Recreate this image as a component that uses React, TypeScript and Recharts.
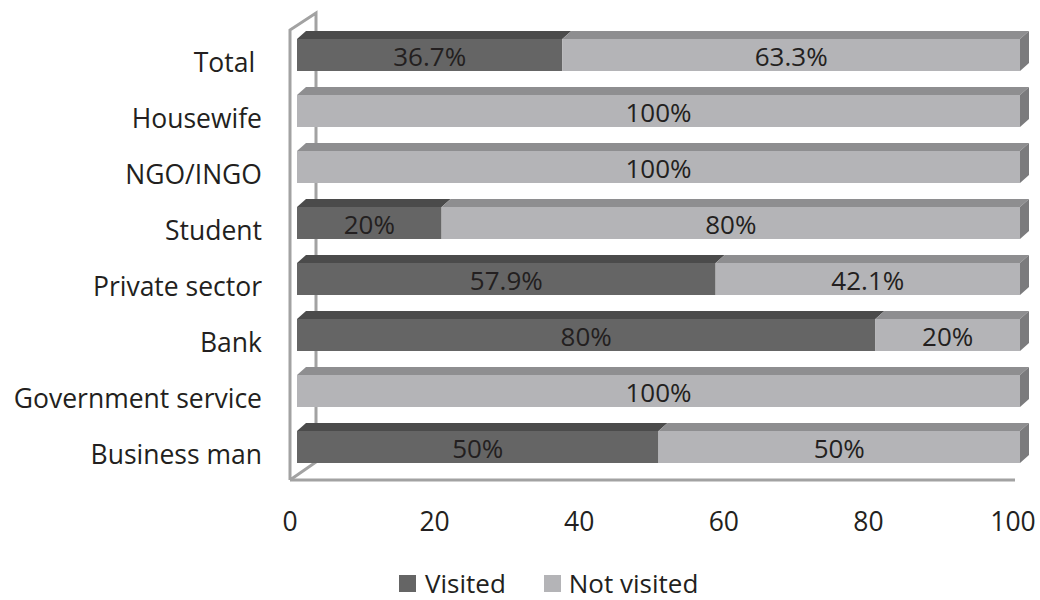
import React from 'react';
import { BarChart, Bar, XAxis, YAxis, LabelList, Legend } from 'recharts';

// values (percent of respondents)
const categories = ['Total ', 'Housewife', 'NGO/INGO', 'Student', 'Private sector', 'Bank', 'Government service', 'Business man'];
const visited = [36.7, 0, 0, 20, 57.9, 80, 0, 50];
const notVisited = [63.3, 100, 100, 80, 42.1, 20, 100, 50];
const xTicks = [0, 20, 40, 60, 80, 100];

const data = categories.map((name, i) => ({
  name,
  visited: visited[i],
  notVisited: notVisited[i],
}));

const W = 1040;
const H = 600;
const LEFT = 290;
const RIGHT = 1013;
const TOP = 33;
const BOTTOM = 481;
const FONT = "'Open Sans', sans-serif";
const TEXT = '#231f20';

// fake 3D: bars sit a little behind the front plane and have a depth
const DX = 7;
const DY = -6;
const DEPTH_X = 9;
const DEPTH_Y = -8;

const COLORS = {
  visited: { front: '#656565', top: '#4b4b4b', side: '#555555' },
  notVisited: { front: '#b4b4b7', top: '#8e8e90', side: '#7b7b7d' },
};

const Box3D = ({ x, y, width, height, front, top, side, withSide }: any) => {
  if (!width || width <= 0) return null;
  const fx = x + DX;
  const fy = y + DY;
  return (
    <g>
      <polygon
        points={`${fx},${fy} ${fx + width},${fy} ${fx + width + DEPTH_X},${fy + DEPTH_Y} ${fx + DEPTH_X},${fy + DEPTH_Y}`}
        fill={top}
      />
      {withSide && (
        <polygon
          points={`${fx + width},${fy} ${fx + width + DEPTH_X},${fy + DEPTH_Y} ${fx + width + DEPTH_X},${fy + height + DEPTH_Y} ${fx + width},${fy + height}`}
          fill={side}
        />
      )}
      <rect x={fx} y={fy} width={width} height={height} fill={front} />
    </g>
  );
};

const ValueLabel = ({ x, y, width, height, value }: any) => {
  if (!value) return null;
  return (
    <text
      x={x + width / 2 + DX}
      y={y + height / 2 + DY + 1}
      textAnchor="middle"
      dominantBaseline="central"
      fontFamily={FONT}
      fontSize={26}
      fill={TEXT}
    >
      {`${value}%`}
    </text>
  );
};

const Walls = () => {
  const stroke = '#a2a2a2';
  const bx = LEFT + 26;
  return (
    <g fill="none" stroke={stroke} strokeWidth={3}>
      <polyline points={`${LEFT},${BOTTOM - 1} ${LEFT},${TOP - 3} ${bx},${TOP - 20} ${bx},${BOTTOM - 19} ${LEFT},${BOTTOM - 1}`} />
      <line x1={LEFT} y1={BOTTOM - 1} x2={RIGHT + 2} y2={BOTTOM - 1} />
    </g>
  );
};

const CategoryTick = ({ y, payload }: any) => (
  <text
    x={LEFT - 28}
    y={y + 1}
    textAnchor="end"
    dominantBaseline="central"
    fontFamily={FONT}
    fontSize={26.5}
    fill={TEXT}
    style={{ whiteSpace: 'pre' }}
  >
    {payload.value}
  </text>
);

const ValueTick = ({ x, payload }: any) => (
  <text
    x={x}
    y={BOTTOM + 40}
    textAnchor="middle"
    dominantBaseline="central"
    fontFamily={FONT}
    fontSize={26.5}
    fill={TEXT}
  >
    {payload.value}
  </text>
);

const LegendContent = () => (
  <div style={{ display: 'flex', alignItems: 'center', fontFamily: FONT, fontSize: 26, color: TEXT, lineHeight: '30px' }}>
    <span style={{ width: 17, height: 17, background: COLORS.visited.front, display: 'inline-block', marginRight: 9 }} />
    <span style={{ marginRight: 38 }}>Visited</span>
    <span style={{ width: 17, height: 17, background: COLORS.notVisited.front, display: 'inline-block', marginRight: 8 }} />
    <span>Not visited</span>
  </div>
);

export default function App() {
  return (
    <div style={{ position: 'absolute', left: 0, top: 0, width: W, height: H, background: '#fff' }}>
      <BarChart
        width={W}
        height={H}
        data={data}
        layout="vertical"
        barCategoryGap={24}
        margin={{ top: TOP, right: W - RIGHT, left: 0, bottom: H - BOTTOM - 60 }}
      >
        <Walls />
        <XAxis
          type="number"
          domain={[0, 100]}
          ticks={xTicks}
          axisLine={false}
          tickLine={false}
          height={60}
          tick={<ValueTick />}
          interval={0}
        />
        <YAxis
          type="category"
          dataKey="name"
          width={LEFT}
          axisLine={false}
          tickLine={false}
          tick={<CategoryTick />}
          interval={0}
        />
        <Legend
          layout="vertical"
          align="center"
          verticalAlign="middle"
          content={<LegendContent />}
          wrapperStyle={{ position: 'absolute', left: 399, top: 568, width: 400, height: 30 }}
        />
        <Bar
          dataKey="visited"
          stackId="a"
          name="Visited"
          barSize={32}
          isAnimationActive={false}
          shape={(p: any) => <Box3D {...p} {...COLORS.visited} withSide={false} />}
        >
          <LabelList dataKey="visited" content={<ValueLabel />} />
        </Bar>
        <Bar
          dataKey="notVisited"
          stackId="a"
          name="Not visited"
          barSize={32}
          isAnimationActive={false}
          shape={(p: any) => <Box3D {...p} {...COLORS.notVisited} withSide />}
        >
          <LabelList dataKey="notVisited" content={<ValueLabel />} />
        </Bar>
      </BarChart>
    </div>
  );
}
